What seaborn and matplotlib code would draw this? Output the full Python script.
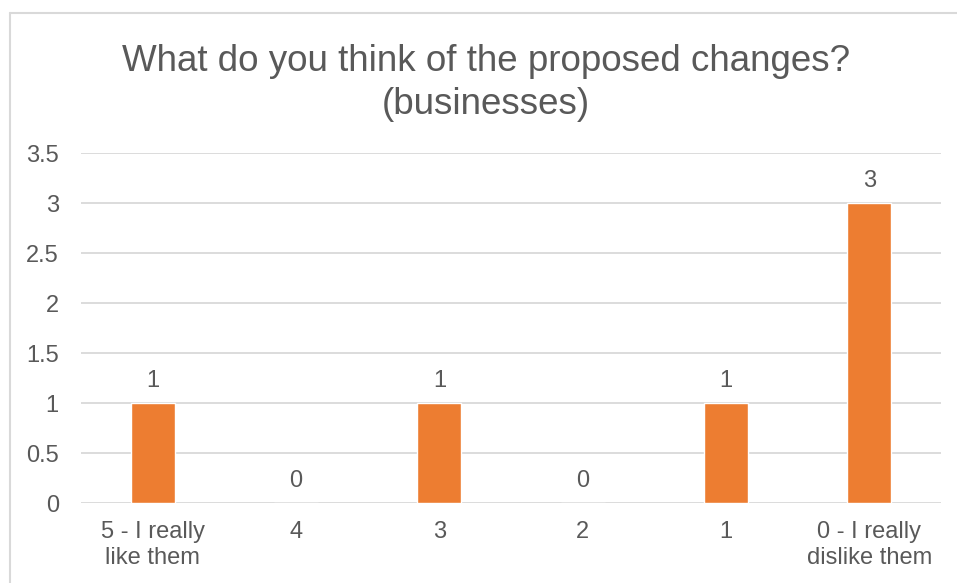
import matplotlib
matplotlib.use("Agg")
import matplotlib.pyplot as plt
import seaborn as sns
import pandas as pd
from matplotlib.lines import Line2D

categories = ["5 - I really\nlike them", "4", "3", "2", "1", "0 - I really\ndislike them"]
values = [1, 0, 1, 0, 1, 3]
yticks = [0, 0.5, 1, 1.5, 2, 2.5, 3, 3.5]
title = "What do you think of the proposed changes?\n(businesses)"

sns.set_theme(style="white")
plt.rcParams["font.family"] = ["Liberation Sans", "DejaVu Sans"]

W, H = 957, 583
fig = plt.figure(figsize=(W / 100, H / 100), dpi=100)
ax = fig.add_axes([81 / W, 1 - 503 / H, 860 / W, 350 / H])

df = pd.DataFrame({"cat": categories, "val": values})
sns.barplot(data=df, x="cat", y="val", color="#ED7D31", width=0.307,
            saturation=1, ax=ax, zorder=3)

text_color = "#595959"
fs = 17
ax.set_ylim(0, 3.5)
ax.set_yticks(yticks)
ax.set_yticklabels([f"{t:g}" for t in yticks])
ax.set_xlim(-0.5, len(categories) - 0.5)
ax.yaxis.grid(True, color="#D9D9D9", linewidth=1.3, zorder=0)
ax.set_axisbelow(True)
for s in ax.spines.values():
    s.set_visible(False)
ax.set_xlabel("")
ax.set_ylabel("")
ax.tick_params(axis="both", length=0, labelsize=fs, colors=text_color)
ax.tick_params(axis="y", pad=16)
ax.tick_params(axis="x", pad=13)
for lbl in ax.get_xticklabels():
    lbl.set_linespacing(1.25)
    lbl.set_verticalalignment("top")

for i, v in enumerate(values):
    ax.annotate(f"{v}", (i, v), xytext=(0, 11.5), textcoords="offset points",
                ha="center", va="baseline", fontsize=fs, color=text_color)

fig.text(486 / W, 1 - 114 / H, title, ha="center", va="baseline", fontsize=26.5,
         color=text_color, linespacing=1.3)

# outer chart border (left and top visible)
fig.add_artist(Line2D([9.5 / W, 9.5 / W], [0, 1 - 13 / H], transform=fig.transFigure,
                      color="#D9D9D9", linewidth=1.5))
fig.add_artist(Line2D([9.5 / W, 1], [1 - 13 / H, 1 - 13 / H], transform=fig.transFigure,
                      color="#D9D9D9", linewidth=1.5))

fig.savefig("out.png", dpi=100, facecolor="white")
